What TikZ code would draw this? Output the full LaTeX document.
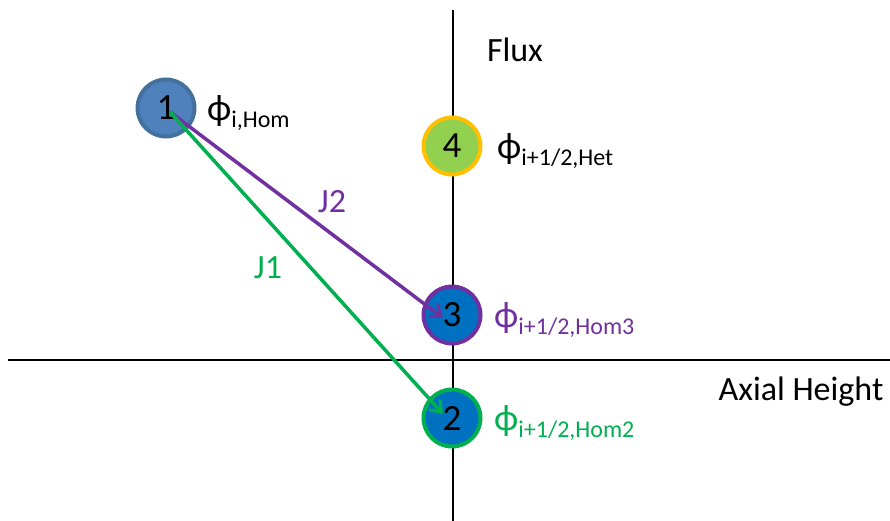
\documentclass[tikz,border=0pt]{standalone}
\usepackage{fontspec}
\setmainfont{Carlito}
\usetikzlibrary{arrows.meta}
\definecolor{nblue}{HTML}{4F81BD}
\definecolor{nblueb}{HTML}{41719C}
\definecolor{dblue}{HTML}{0070C0}
\definecolor{opurple}{HTML}{7030A0}
\definecolor{ogreen}{HTML}{00B050}
\definecolor{lgreen}{HTML}{92D050}
\definecolor{ogold}{HTML}{FFC000}
\newcommand{\phisub}[1]{{\fontsize{37}{37}\selectfont ϕ}{\fontsize{24}{24}\selectfont\raisebox{-7pt}{#1}}}
\begin{document}
\begin{tikzpicture}[x=1pt,y=-1pt,
  circ/.style={circle,minimum size=57pt,inner sep=0pt,line width=4pt,font=\fontsize{37}{37}\selectfont},
  axis/.style={line width=1.5pt,black},
  conn/.style={line width=3.5pt,-{Straight Barb[length=10pt,width=15pt,line width=3pt]}},
  big/.style={font=\fontsize{34}{34}\selectfont},
  lbl/.style={anchor=west,inner sep=0pt}]
\useasboundingbox (0,0) rectangle (890,521);
\coordinate (vtop) at (453,10);
\coordinate (vbot) at (453,521);
\coordinate (hl) at (8,360);
\coordinate (hr) at (890,360);
\draw[axis] (vtop) -- (vbot);
\draw[axis] (hl) -- (hr);
\node[circ,fill=nblue,draw=nblueb] (n1) at (166,108) {1};
\node[circ,fill=lgreen,draw=ogold] (n4) at (452,146) {4};
\node[circ,fill=dblue,draw=opurple] (n3) at (452,315) {3};
\node[circ,fill=dblue,draw=ogreen] (n2) at (452,418) {2};
\coordinate (s1) at (170,112);
\coordinate (e3) at (443,318);
\coordinate (e2) at (443,414);
\draw[conn,opurple] (s1) -- (e3);
\draw[conn,ogreen] (s1) -- (e2);
\node[big] (flux) at (515,50) {Flux};
\node[big] (axh) at (801,392) {Axial Height};
\node[big,text=opurple] (j2) at (332,202) {J2};
\node[big,text=ogreen] (j1) at (268,268) {J1};
\node[lbl] (p1) at (207,113) {\phisub{i,Hom}};
\node[lbl] (p4) at (497,151) {\phisub{i+1/2,Het}};
\node[lbl,text=opurple] (p3) at (494,320) {\phisub{i+1/2,Hom3}};
\node[lbl,text=ogreen] (p2) at (494,423) {\phisub{i+1/2,Hom2}};
\end{tikzpicture}
\end{document}
